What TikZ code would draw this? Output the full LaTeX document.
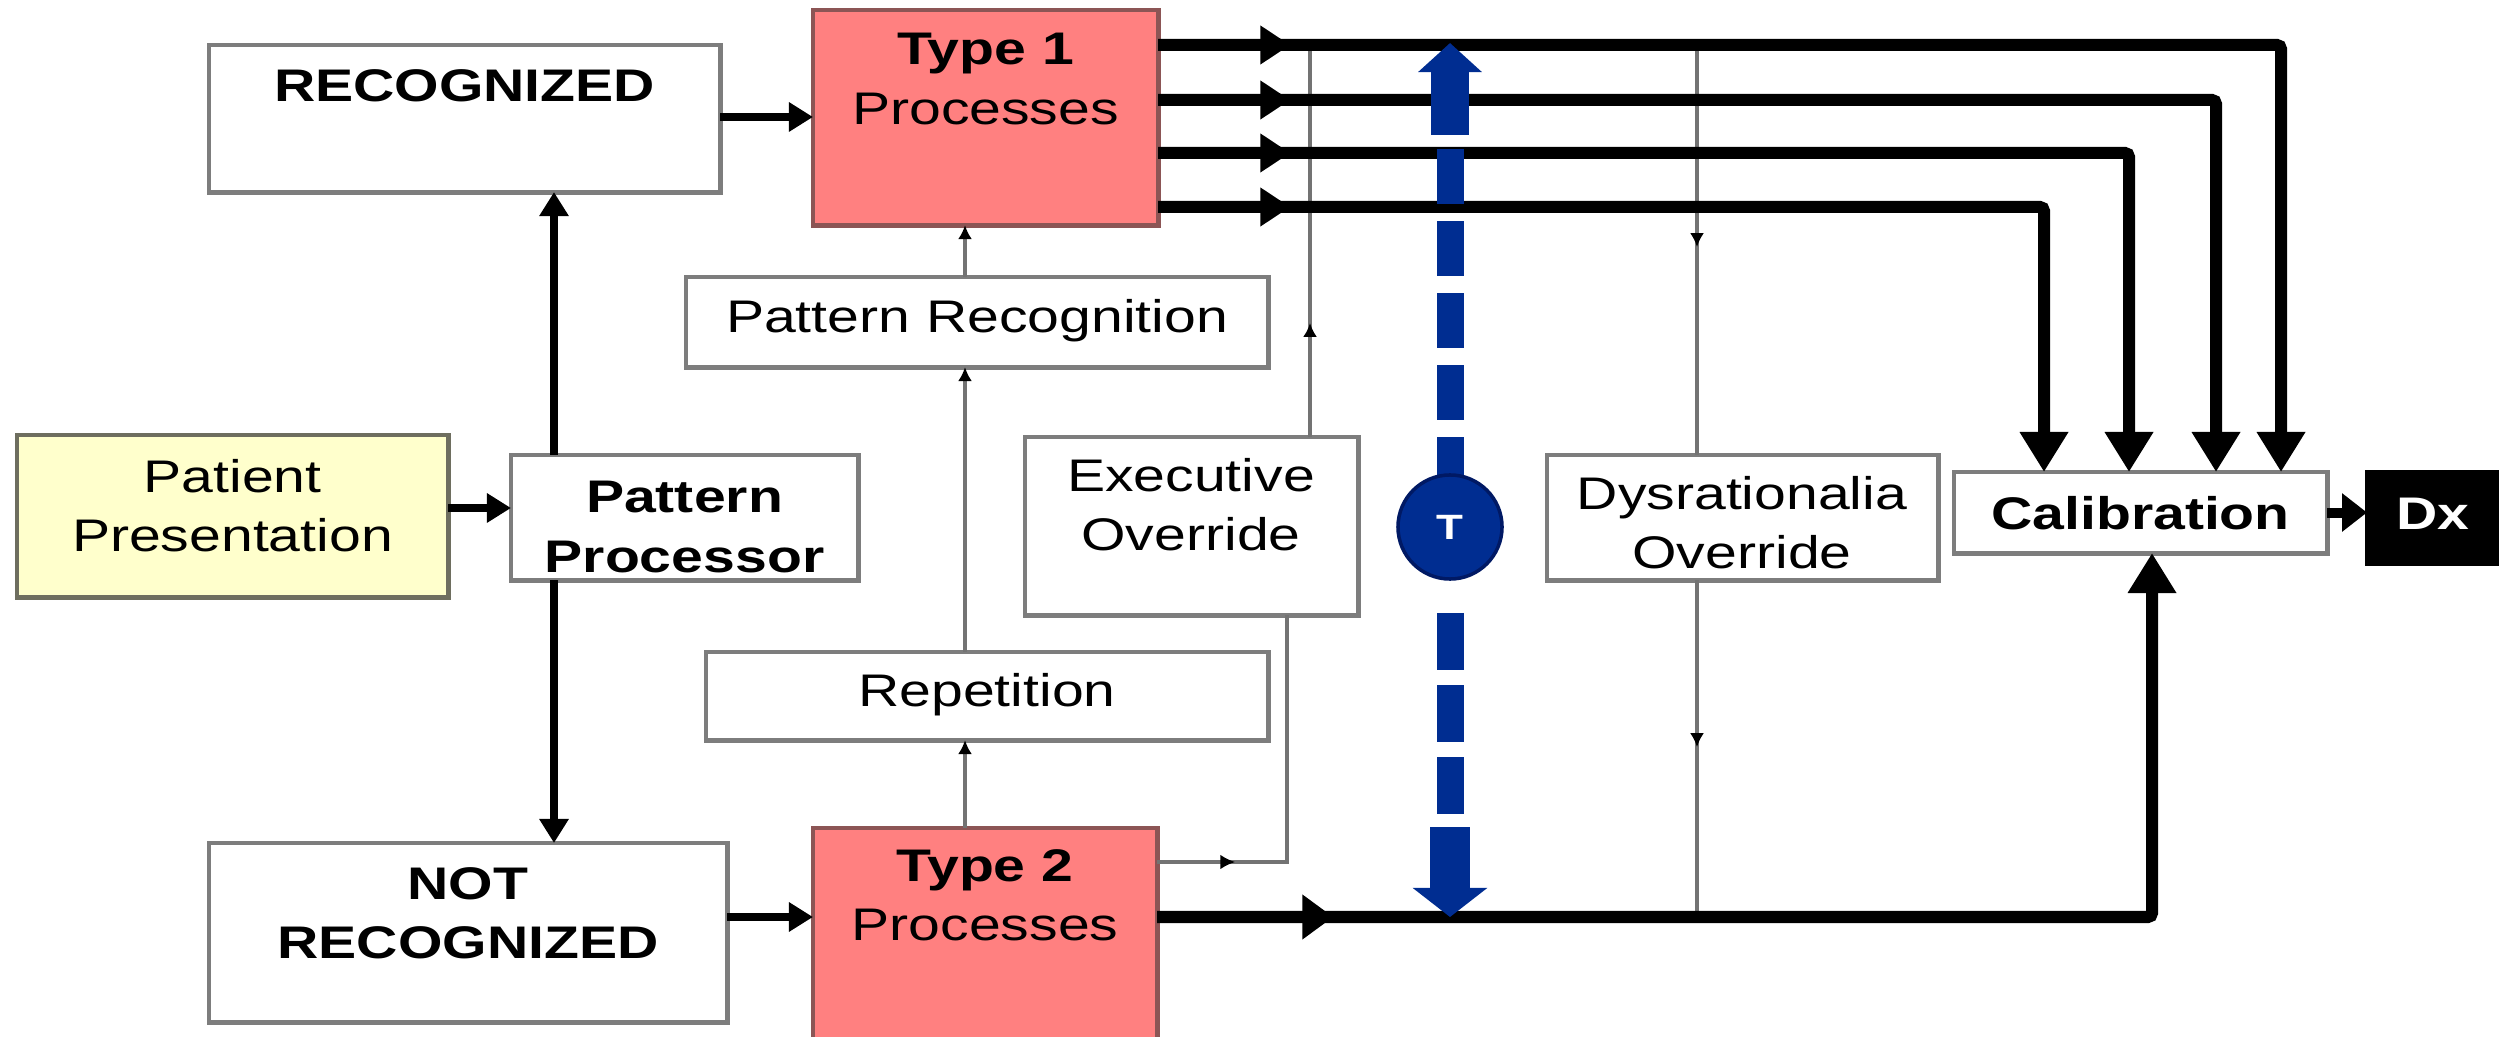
\documentclass[tikz,border=0pt]{standalone}
\usepackage{fontspec}
\setmainfont{Liberation Sans}[FakeStretch=1.25]
\usetikzlibrary{arrows.meta,decorations.markings}
\definecolor{salmon}{RGB}{255,128,128}
\definecolor{salmonedge}{RGB}{140,85,85}
\definecolor{paleyellow}{RGB}{255,255,204}
\definecolor{olivegray}{RGB}{110,110,95}
\definecolor{edgegray}{RGB}{125,125,125}
\definecolor{linegray}{RGB}{115,115,115}
\definecolor{tblue}{RGB}{0,45,145}
\definecolor{tbluedark}{RGB}{0,25,100}
\begin{document}
\begin{tikzpicture}[x=0.01cm,y=-0.01cm,
  box/.style={draw=edgegray, line width=1.4pt, fill=white, rectangle, inner sep=0pt, outer sep=0pt, anchor=north west},
  pinkbox/.style={box, draw=salmonedge, fill=salmon},
  txt/.style={font=\fontsize{13}{16.8}\selectfont, align=center, inner sep=0pt},
  txtb/.style={txt, font=\fontsize{13}{16.8}\selectfont\bfseries},
  gline/.style={draw=linegray, line width=1.2pt},
  mline/.style={draw=black, line width=0.08cm},
  kline/.style={draw=black, line width=0.12cm, rounded corners=0.04cm},
  bluedash/.style={draw=tblue, line width=0.27cm},
  midarr/.style 2 args={postaction={decorate, decoration={markings, mark=at position #1 with {\arrow{#2}}}}},
  smallhead/.style={-{Latex[length=0.14cm,width=0.14cm,color=black]}},
  medhead/.style={-{Triangle[length=0.24cm,width=0.28cm]}},
  bighead/.style={-{Triangle[length=0.40cm,width=0.46cm]}}
]
\useasboundingbox (0,0) rectangle (2503,1037);
\clip (0,0) rectangle (2503,1037);
\fill[white] (0,0) rectangle (2503,1037);

% helper coordinates
\coordinate (yA) at (0,45);
\coordinate (yB) at (0,100);
\coordinate (yC) at (0,153);
\coordinate (yD) at (0,207);
\coordinate (yE) at (0,862);
\coordinate (yF) at (0,917);
\coordinate (xA) at (2281,0);
\coordinate (xB) at (2216,0);
\coordinate (xC) at (2129,0);
\coordinate (xD) at (2044,0);
\coordinate (xE) at (1310,0);
\coordinate (xF) at (1287,0);
\coordinate (xG) at (1697,0);
\coordinate (xH) at (2152,0);
\coordinate (xP) at (554,0);
\coordinate (xR) at (965,0);
\coordinate (yPat) at (0,508);
\coordinate (yRec) at (0,117);

% boxes
\node[box, minimum width=5.11cm, minimum height=1.47cm] (rec) at (209,45) {};
\node[pinkbox, minimum width=3.45cm, minimum height=2.15cm] (t1) at (813,10) {};
\node[box, fill=paleyellow, draw=olivegray, minimum width=4.31cm, minimum height=1.62cm] (pat) at (17,435) {};
\node[box, minimum width=3.47cm, minimum height=1.25cm] (pp) at (511,455) {};
\node[box, minimum width=5.18cm, minimum height=1.79cm] (notrec) at (209,843) {};
\node[pinkbox, minimum width=3.44cm, minimum height=2.40cm] (t2) at (813,828) {};
\node[box, minimum width=5.82cm, minimum height=0.90cm] (pr) at (686,277) {};
\node[box, minimum width=5.62cm, minimum height=0.88cm] (rep) at (706,652) {};
\node[box, minimum width=3.33cm, minimum height=1.78cm] (exec) at (1025,437) {};
\node[box, minimum width=3.91cm, minimum height=1.25cm] (dys) at (1547,455) {};
\node[box, minimum width=3.73cm, minimum height=0.81cm] (cal) at (1954,472) {};
\node[box, fill=black, draw=black, minimum width=1.29cm, minimum height=0.91cm] (dx) at (2367,472) {};

% texts
\node[txtb, anchor=base] (recT) at (464.5,102) {RECOGNIZED};
\node[txt] (t1T) at (985.5,79) {\textbf{Type 1}\\Processes};
\node[txt] (patT) at (232.5,505.5) {Patient\\Presentation};
\node[txtb] (ppT) at (684.5,527) {Pattern\\Processor};
\node[txtb] (notrecT) at (468,913.5) {NOT\\RECOGNIZED};
\node[txt] (t2T) at (985,895) {\textbf{Type 2}\\Processes};
\node[txt, anchor=base] (prT) at (977,333) {Pattern Recognition};
\node[txt, anchor=base] (repT) at (987,707) {Repetition};
\node[txt] (execT) at (1191,505) {Executive\\Override};
\node[txt] (dysT) at (1742,522.5) {Dysrationalia\\Override};
\node[txtb, anchor=base] (calT) at (2140.5,530) {Calibration};
\node[txtb, anchor=base, text=white] (dxT) at (2433,530) {Dx};

% thin gray connectors
\draw[gline, smallhead] (t2.north -| xR) -- (rep.south -| xR);
\draw[gline, smallhead] (rep.north -| xR) -- (pr.south -| xR);
\draw[gline, smallhead] (pr.north -| xR) -- (t1.south -| xR);
\draw[gline, midarr={0.78cm}{Latex[length=0.15cm,width=0.15cm,color=black]}] (t2.east |- yE) -| (exec.south -| xF);
\draw[gline, midarr={1.14cm}{Latex[length=0.14cm,width=0.14cm,color=black]}] (exec.north -| xE) -- (xE |- yA);
\draw[gline, midarr={2.02cm}{Latex[length=0.14cm,width=0.14cm,color=black]}] (xG |- yA) -- (dys.north -| xG);
\draw[gline, midarr={1.67cm}{Latex[length=0.14cm,width=0.14cm,color=black]}] (dys.south -| xG) -- (xG |- yF);

% medium black connectors
\draw[mline, medhead] (pat.east |- yPat) -- (pp.west |- yPat);
\draw[mline, medhead] (pp.north -| xP) -- (rec.south -| xP);
\draw[mline, medhead] (pp.south -| xP) -- (notrec.north -| xP);
\draw[mline, medhead] (rec.east |- yRec) -- (t1.west |- yRec);
\draw[mline, medhead] (notrec.east |- yF) -- (t2.west |- yF);
\draw[draw=black, line width=0.10cm, -{Triangle[length=0.25cm,width=0.37cm]}] (cal.east) -- (cal.east -| dx.west);

% thick black connectors
\draw[kline, bighead, midarr={1.32cm}{Triangle[length=0.30cm,width=0.37cm]}] (t1.east |- yA) -| (cal.north -| xA);
\draw[kline, bighead, midarr={1.32cm}{Triangle[length=0.30cm,width=0.37cm]}] (t1.east |- yB) -| (cal.north -| xB);
\draw[kline, bighead, midarr={1.32cm}{Triangle[length=0.30cm,width=0.37cm]}] (t1.east |- yC) -| (cal.north -| xC);
\draw[kline, bighead, midarr={1.32cm}{Triangle[length=0.30cm,width=0.37cm]}] (t1.east |- yD) -| (cal.north -| xD);
\draw[kline, bighead, midarr={1.76cm}{Triangle[length=0.31cm,width=0.43cm]}] (t2.east |- yF) -| (cal.south -| xH);

% blue T arrow
\coordinate (Tpos) at (1450,527);
\coordinate (bTop1) at (1450,135);
\coordinate (bTop) at (1450,43);
\coordinate (bBot1) at (1450,827);
\coordinate (bBot) at (1450,917);
\draw[bluedash, dash pattern=on 0.55cm off 0.17cm, dash phase=0.37cm] (Tpos) -- (bTop1);
\draw[draw=tblue, line width=0.38cm, -{Triangle[length=0.29cm,width=0.62cm]}] (bTop1) -- (bTop);
\draw[bluedash, dash pattern=on 0.57cm off 0.15cm] (1450,613) -- (bBot1);
\draw[draw=tblue, line width=0.40cm, -{Triangle[length=0.29cm,width=0.73cm]}] (bBot1) -- (bBot);
\node[circle, fill=tblue, draw=tbluedark, line width=1pt, minimum size=1.04cm, inner sep=0pt,
      text=white, font=\fontsize{10}{12}\selectfont\bfseries] (T) at (Tpos) {T};
\end{tikzpicture}
\end{document}
